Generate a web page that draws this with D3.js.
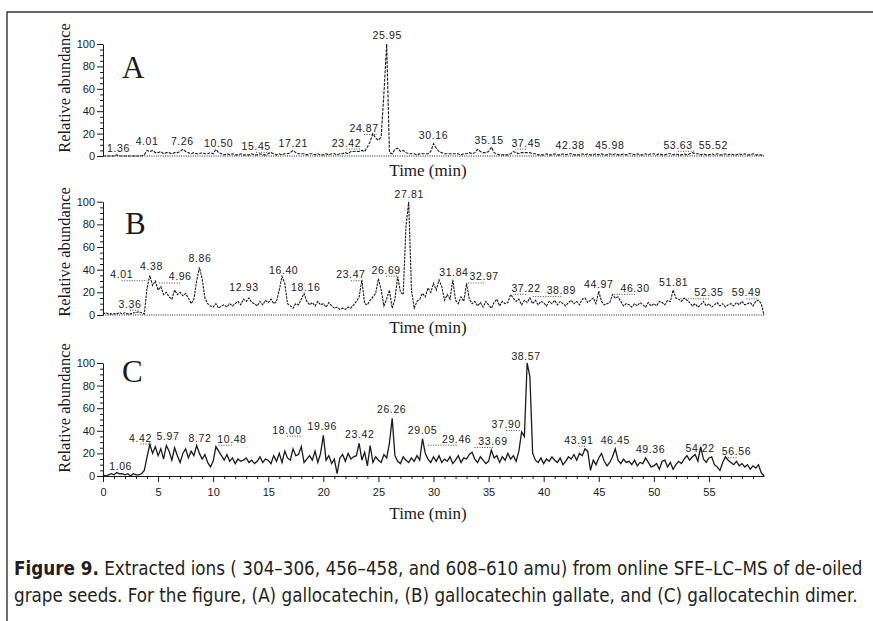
<!DOCTYPE html>
<html><head><meta charset="utf-8">
<script src="https://cdn.jsdelivr.net/npm/d3@7"></script>
<style>body{margin:0;background:#fff}svg{display:block}</style>
</head><body><svg id="chart" width="873" height="621"></svg>
<script>
// ---------- DATA ----------
const timeStep = 0.25; // minutes between samples, samples start at 0 min
const seriesA = [
0,0,0,0, 0,1,0,0, 0,0,0,0, 0,0,0,1, 5,4,5,3, 3,4,2,3, 3,2,3,3, 4,6,4,3, 2,3,2,2, 3,2,2,3,
2,6,3,2, 1,2,1,2, 1,1,2,1, 1,1,2,1, 1,2,1,1, 2,3,2,1, 2,1,2,2, 3,5,3,2, 2,2,1,2, 2,1,2,1,
1,2,1,2, 2,1,2,2, 3,2,4,4, 4,4,5,4, 8,13,20,16, 14,17,56,100, 3,2,6,7, 4,5,3,2, 2,2,1,2, 2,2,2,4,
11,7,4,3, 2,2,2,2, 2,2,1,2, 2,3,2,3, 6,4,3,3, 4,8,3,2, 1,1,1,1, 2,4,3,2, 3,3,3,3, 2,2,1,1,
1,2,1,1, 2,1,1,2, 1,2,2,1, 1,1,2,1, 2,1,1,2, 1,2,1,1, 2,1,2,1, 1,2,1,2, 2,1,2,1, 1,2,1,2,
2,1,2,1, 1,2,2,1, 2,1,1,2, 1,2,3,2, 2,1,2,1, 1,2,1,2, 1,1,2,1, 2,1,1,2, 1,2,1,1, 2,1,1,1,
0];
const seriesB = [
1,2,1,1, 1,1,2,1, 2,1,1,2, 2,3,2,1, 24,35,26,30, 22,25,18,20, 16,14,22,18, 20,17,19,15, 10,14,30,42, 32,15,10,8,
7,10,6,8, 9,7,10,8, 10,12,9,14, 12,15,11,10, 8,12,9,13, 11,14,10,12, 22,34,28,10, 8,6,10,9, 14,19,12,9, 11,8,12,9,
10,7,11,8, 6,7,5,6, 5,7,6,9, 12,16,31,10, 9,13,16,19, 32,22,8,14, 22,6,14,34, 20,18,78,100, 22,6,12,14, 19,16,24,20,
28,22,31,25, 13,18,14,31, 13,10,16,12, 28,14,10,12, 8,11,7,12, 9,6,11,14, 8,12,10,11, 18,15,12,14, 9,13,11,15, 10,13,9,12,
11,8,12,10, 13,9,12,10, 8,11,13,10, 12,9,14,15, 11,13,15,10, 21,12,9,10, 11,18,15,16, 12,8,10,9, 7,10,8,11, 9,7,11,8,
10,8,12,11, 9,13,12,22, 15,14,12,15, 13,11,8,10, 7,9,12,8, 10,7,9,11, 8,10,7,9, 10,8,11,9, 12,9,10,11, 8,12,13,10,
0];
const seriesC = [
1,0,1,2, 1,3,2,2, 1,2,0,2, 1,1,2,5, 17,28,20,26, 18,24,15,27, 22,14,25,18, 12,20,24,16, 22,18,27,20, 15,19,12,8,
13,26,22,18, 14,19,13,16, 11,15,13,14, 16,12,14,11, 13,17,12,15, 14,11,18,13, 20,12,22,16, 14,24,18,19, 26,12,15,18, 14,22,12,20,
36,14,18,11, 15,2,16,19, 13,20,15,17, 18,29,14,21, 9,27,12,17, 14,12,19,16, 29,51,18,13, 11,17,14,12, 16,13,18,14, 33,20,15,12,
17,13,18,12, 15,13,17,11, 14,18,12,16, 15,19,21,15, 12,17,14,11, 13,23,16,18, 12,17,14,20, 15,18,13,22, 39,35,100,88, 20,14,12,16,
11,15,13,17, 14,12,16,10, 13,17,15,19, 14,20,18,24, 22,5,14,10, 16,20,13,9, 12,17,24,14, 11,15,12,13, 10,14,9,12, 11,16,12,8,
9,11,6,13, 14,8,12,6, 10,13,11,15, 18,14,17,19, 13,26,15,12, 16,17,10,8, 5,12,17,14, 12,10,13,9, 11,8,10,6, 9,7,10,3,
0];

// peak labels: text, label centre time (min), label centre height (% abundance)
const peakTextA = ["1.36","4.01","7.26","10.50","15.45","17.21","23.42","24.87","25.95","30.16","35.15","37.45","42.38","45.98","53.63","55.52"];
const peakLabelTimeA = [1.4,4.0,7.2,10.5,13.9,17.27,22.1,23.7,25.8,30.0,35.05,38.4,42.4,46.0,52.2,55.4];
const peakLabelLevelA = [7,13,13,12,9,12,12,25,108,19,14,12,10,10,10,10];

const peakTextB = ["3.36","4.01","4.38","4.96","8.86","12.93","16.40","18.16","23.47","26.69","27.81","31.84","32.97","37.22","38.89","44.97","46.30","51.81","52.35","59.49"];
const peakLabelTimeB = [2.45,1.7,4.4,7.0,8.8,12.8,16.4,18.4,22.5,25.7,27.8,31.85,34.6,38.4,41.6,45.0,48.3,51.8,55.0,58.4];
const peakLabelLevelB = [10,36,43,34,50,25,40,25,36,40,107,38,34,24,22,27,24,29,20,20];

const peakTextC = ["1.06","4.42","5.97","8.72","10.48","18.00","19.96","23.42","26.26","29.05","29.46","33.69","37.90","38.57","43.91","46.45","49.36","54.22","56.56"];
const peakLabelTimeC = [1.6,3.4,5.9,8.8,11.7,16.7,19.9,23.3,26.2,29.0,32.1,35.4,36.6,38.4,43.2,46.5,49.7,54.2,57.5];
const peakLabelLevelC = [9,34,35,34,33,41,44,37,59,41,33,31,46,106,32,32,24,25,22];

const panelNames = ["A","B","C"];
const yTickValues = [0,20,40,60,80,100];
const xTickValues = [0,5,10,15,20,25,30,35,40,45,50,55];
const yAxisTitle = "Relative abundance";
const xAxisTitle = "Time (min)";
const captionBold = "Figure 9.";
const captionLine1 = " Extracted ions ( 304\u2013306, 456\u2013458, and 608\u2013610 amu) from online SFE\u2013LC\u2013MS of de-oiled";
const captionLine2 = "grape seeds. For the figure, (A) gallocatechin, (B) gallocatechin gallate, and (C) gallocatechin dimer.";

// ---------- DRAW ----------
const svg = d3.select("#chart");
const ink = "#1a1a1a";
const sans = "'Liberation Sans', Arial, sans-serif";
const serif = "'Liberation Serif', 'Times New Roman', serif";

// frame
svg.append("path").attr("d","M7,621V12H873").attr("fill","none").attr("stroke","#333").attr("stroke-width",1.4);

const x = d3.scaleLinear().domain([0,60]).range([103,764]);

const panels = [
  {name:panelNames[0], values:seriesA, texts:peakTextA, lt:peakLabelTimeA, ll:peakLabelLevelA,
   y0:156, y100:44, letter:[122,78], ylabY:88, xlabY:176, dash:"3,1.2", sw:1.1, xaxis:false},
  {name:panelNames[1], values:seriesB, texts:peakTextB, lt:peakLabelTimeB, ll:peakLabelLevelB,
   y0:315, y100:201.7, letter:[125,234], ylabY:252, xlabY:333, dash:"2.5,1", sw:1.1, xaxis:false},
  {name:panelNames[2], values:seriesC, texts:peakTextC, lt:peakLabelTimeC, ll:peakLabelLevelC,
   y0:476, y100:363, letter:[122,382], ylabY:408, xlabY:519, dash:null, sw:1.3, xaxis:true}
];

panels.forEach(p => {
  const y = d3.scaleLinear().domain([0,100]).range([p.y0,p.y100]);
  const g = svg.append("g");

  // y axis major
  const ya = g.append("g").attr("transform",`translate(${x(0)},0)`)
    .call(d3.axisLeft(y).tickValues(yTickValues).tickSize(6).tickPadding(2).tickSizeOuter(0));
  ya.selectAll("text").attr("font-family",sans).attr("font-size",11).attr("fill",ink);
  ya.selectAll("line,path").attr("stroke",ink);
  // y axis minor
  const ym = g.append("g").attr("transform",`translate(${x(0)},0)`)
    .call(d3.axisLeft(y).tickValues(d3.range(5,100,5).filter(v=>v%20!==0)).tickSize(3).tickFormat(""));
  ym.select(".domain").remove();
  ym.selectAll("line").attr("stroke",ink);

  // x axis
  if (p.xaxis) {
    const xa = g.append("g").attr("transform",`translate(0,${p.y0})`)
      .call(d3.axisBottom(x).tickValues(xTickValues).tickSize(6).tickPadding(6).tickSizeOuter(0));
    xa.selectAll("text").attr("font-family",sans).attr("font-size",11).attr("fill",ink);
    xa.selectAll("line,path").attr("stroke",ink);
    const xm = g.append("g").attr("transform",`translate(0,${p.y0})`)
      .call(d3.axisBottom(x).tickValues(d3.range(1,60,1).filter(v=>v%5!==0)).tickSize(3).tickFormat(""));
    xm.select(".domain").remove();
    xm.selectAll("line").attr("stroke",ink);
  } else {
    g.append("line").attr("x1",x(0)).attr("x2",x(60)).attr("y1",p.y0).attr("y2",p.y0)
      .attr("stroke",ink).attr("stroke-width",1).attr("stroke-dasharray","1,1.3");
  }

  // trace
  const pts = p.values.map((v,i)=>[i*timeStep, v]);
  const line = d3.line().x(d=>x(d[0])).y(d=>y(d[1]));
  const tr = g.append("path").datum(pts).attr("d",line).attr("fill","none")
    .attr("stroke",ink).attr("stroke-width",p.sw).attr("stroke-linejoin","miter");
  if (p.dash) tr.attr("stroke-dasharray",p.dash);

  // peak labels
  p.texts.forEach((t,i)=>{
    const rt = +t;
    const cx = x(p.lt[i]), cy = y(p.ll[i]);
    g.append("text").attr("x",cx).attr("y",cy+4).attr("text-anchor","middle")
      .attr("font-family",sans).attr("font-size",10.5).attr("letter-spacing",0.6).attr("fill",ink).text(t);
    if (Math.abs(p.lt[i]-rt) > 0.6) {
      g.append("line").attr("x1",cx).attr("x2",x(rt)).attr("y1",cy+6.5).attr("y2",cy+6.5)
        .attr("stroke",ink).attr("stroke-width",0.8).attr("stroke-dasharray","1,1.5");
    }
  });

  // panel letter
  g.append("text").attr("x",p.letter[0]).attr("y",p.letter[1]).attr("font-family",serif)
    .attr("font-size",31).attr("fill",ink).text(p.name);
  // y title
  g.append("text").attr("transform",`translate(70,${p.ylabY}) rotate(-90)`).attr("text-anchor","middle")
    .attr("font-family",serif).attr("font-size",16.5).attr("fill",ink).text(yAxisTitle);
  // x title
  g.append("text").attr("x",428).attr("y",p.xlabY).attr("text-anchor","middle")
    .attr("font-family",serif).attr("font-size",17).attr("fill",ink).text(xAxisTitle);
});

// caption: one condensed style for both lines, line 1 fitted to the frame width
const capFont = "'DejaVu Sans Condensed','Liberation Sans Narrow','Open Sans',sans-serif";
const cap = svg.append("g").attr("fill","#231f20").attr("font-family",capFont).attr("font-size",20)
  .attr("font-stretch","condensed");
const c1 = cap.append("text").attr("x",0).attr("y",575);
c1.append("tspan").attr("font-weight","bold").text(captionBold);
c1.append("tspan").text(captionLine1);
const c2 = cap.append("text").attr("x",0).attr("y",602).text(captionLine2);
const w1 = c1.node().getComputedTextLength();
const s = 849 / w1;
cap.attr("transform",`translate(14,0) scale(${s},1)`);
</script>
</body></html>
